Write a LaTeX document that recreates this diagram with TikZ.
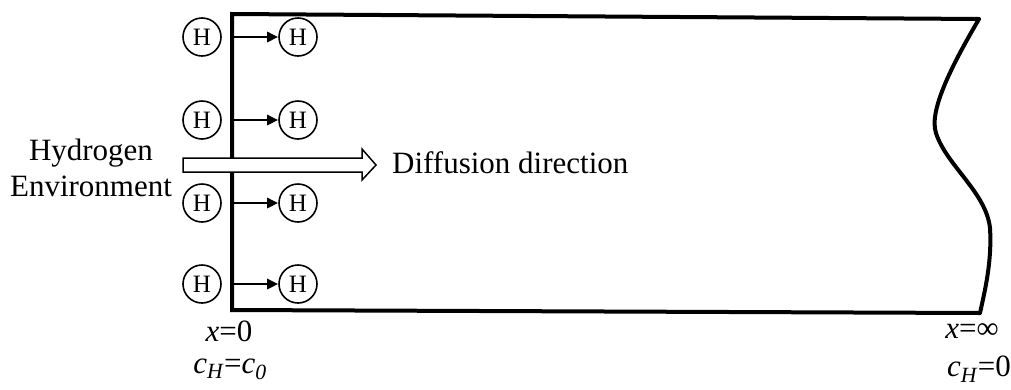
\documentclass[tikz,border=0pt]{standalone}
\usepackage{fontspec}
\setmainfont{Liberation Serif}
\usetikzlibrary{arrows.meta}
\begin{document}
\begin{tikzpicture}[x=1pt,y=-1pt,
  hatom/.style={circle,draw,line width=1.6pt,minimum size=38pt,inner sep=0pt,font=\fontsize{25}{28}\selectfont},
  wall/.style={line width=4pt,line join=miter},
  flux/.style={line width=2.6pt,-{Triangle[length=11pt,width=10pt]}},
  lbl/.style={font=\fontsize{31}{36}\selectfont,inner sep=0pt}]
\useasboundingbox (0,0) rectangle (1011,389);
% body outline
\coordinate (tl) at (232,14);
\coordinate (bl) at (232,310);
\coordinate (tr) at (979,19);
\coordinate (br) at (980,313);
\draw[wall] (tr) -- (tl) -- (bl) -- (br);
\draw[wall,line cap=round] (tr) .. controls (955,60) and (928,110) .. (936,133)
  .. controls (946,165) and (986,192) .. (990,228)
  .. controls (992,262) and (985,290) .. (br);
% hollow arrow
\draw[line width=1.5pt,fill=white] (183,158) -- (362,158) -- (362,149) -- (376,165) -- (362,180) -- (362,172) -- (183,172) -- cycle;
% H atoms
\foreach \i/\y in {1/37,2/120,3/203,4/284}{
  \node[hatom] (l\i) at (202,\y) {H};
  \node[hatom] (r\i) at (298,\y) {H};
  \coordinate (w\i) at (232,\y);
  \draw[flux] (w\i) -- (r\i.west);
}
% labels
\node[lbl,align=center] (env) at (91,168) {Hydrogen\\Environment};
\node[lbl,anchor=west] (dir) at (392,163) {Diffusion direction};
\node[lbl] (x0) at (229,331) {\textit{x}=0};
\node[lbl] (c0) at (230,369) {\textit{c}\textsubscript{\textit{H}}=\textit{c}\textsubscript{\textit{0}}};
\node[lbl] (xi) at (972,331) {\textit{x}=∞};
\node[lbl] (ci) at (979,369) {\textit{c}\textsubscript{\textit{H}}=0};
\end{tikzpicture}
\end{document}
